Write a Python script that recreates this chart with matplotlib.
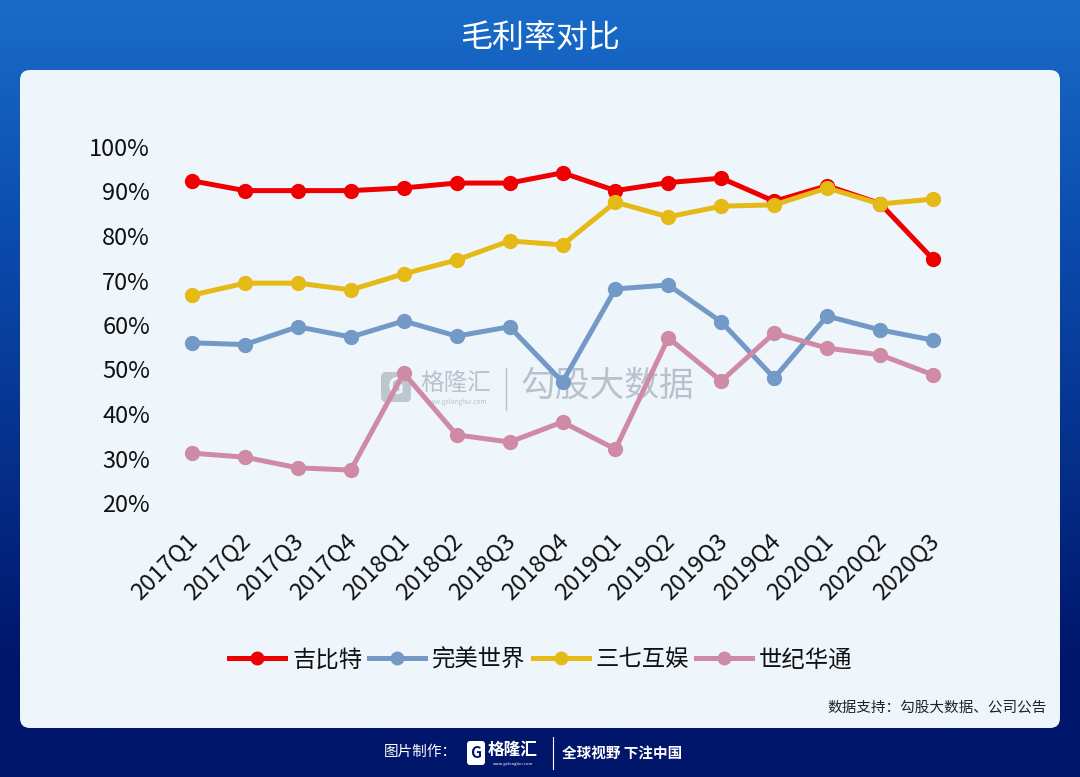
import matplotlib
matplotlib.use("Agg")
import matplotlib.pyplot as plt
import matplotlib.transforms as mtransforms
import numpy as np
from matplotlib.patches import FancyBboxPatch
from matplotlib.lines import Line2D

plt.rcParams['font.family'] = ['Noto Sans CJK SC', 'DejaVu Sans']

quarters = ["2017Q1", "2017Q2", "2017Q3", "2017Q4", "2018Q1", "2018Q2", "2018Q3",
            "2018Q4", "2019Q1", "2019Q2", "2019Q3", "2019Q4", "2020Q1", "2020Q2", "2020Q3"]

jibite = [92.4, 90.2, 90.2, 90.2, 90.8, 91.9, 91.9, 94.2, 90.2, 92.0, 93.0, 87.8, 91.3, 87.3, 74.8]
wanmei = [56.0, 55.6, 59.6, 57.3, 60.9, 57.5, 59.6, 47.2, 68.1, 69.0, 60.7, 48.1, 62.0, 58.9, 56.6]
sanqi = [66.7, 69.4, 69.4, 67.9, 71.5, 74.6, 78.9, 78.0, 87.6, 84.3, 86.7, 87.0, 90.8, 87.2, 88.3]
shiji = [31.2, 30.3, 27.9, 27.4, 49.2, 35.3, 33.7, 38.2, 32.1, 57.1, 47.4, 58.2, 54.8, 53.3, 48.8]

series_names = ["吉比特", "完美世界", "三七互娱", "世纪华通"]
series_colors = ["#ee0000", "#7399c6", "#e5b916", "#cf8aa5"]
yticks = [20, 30, 40, 50, 60, 70, 80, 90, 100]

W, H = 1080, 777
fig = plt.figure(figsize=(W / 100, H / 100), dpi=100)

# background
bg = fig.add_axes([0, 0, 1, 1])
bg.set_xlim(0, W)
bg.set_ylim(H, 0)
bg.axis('off')
top = np.array([0x1a, 0x6c, 0xc9]) / 255
mid = np.array([0x0b, 0x4c, 0xae]) / 255
bot = np.array([0x00, 0x16, 0x6b]) / 255
t = np.linspace(0, 1, 400)[:, None]
grad = np.where(t < 0.3, top + (mid - top) * (t / 0.3),
                mid + (bot - mid) * np.clip((t - 0.3) / 0.55, 0, 1))
img = np.repeat(grad[:, None, :], 2, axis=1)
bg.imshow(img, extent=[0, W, H, 0], aspect='auto', zorder=0)

panel = FancyBboxPatch((20, 70), 1040, 658, boxstyle="round,pad=0,rounding_size=10",
                       facecolor="#eef6fc", edgecolor="none", zorder=1)
bg.add_patch(panel)

bg.text(540, 38, "毛利率对比", color="white", fontsize=23, ha="center", va="center", zorder=2)
bg.text(1047, 708, "数据支持：勾股大数据、公司公告", color="#222222", fontsize=10.5,
        ha="right", va="center", zorder=2)

# watermark
wm = "#b9c1cc"
bg.add_patch(FancyBboxPatch((381, 372), 30, 30, boxstyle="round,pad=0,rounding_size=5",
                            facecolor=wm, edgecolor="none", zorder=2, alpha=0.9))
bg.text(396, 387, "G", color="#eef6fc", fontsize=16, fontweight="bold", ha="center", va="center", zorder=3)
bg.text(456, 383, "格隆汇", color=wm, fontsize=17, ha="center", va="center", zorder=2)
bg.text(456, 402, "www.gelonghui.com", color=wm, fontsize=4.5, ha="center", va="center", zorder=2)
bg.plot([506, 506], [368, 410], color=wm, lw=1, zorder=2)
bg.text(607, 386, "勾股大数据", color=wm, fontsize=25, ha="center", va="center", zorder=2)

# footer
bg.text(457, 752, "图片制作：", color="white", fontsize=10.5, ha="right", va="center", zorder=2)
bg.add_patch(FancyBboxPatch((467, 741), 18, 24, boxstyle="round,pad=0,rounding_size=3",
                            facecolor="white", edgecolor="none", zorder=2))
bg.text(476, 753, "G", color="#00176c", fontsize=11, fontweight="bold", ha="center", va="center", zorder=3)
bg.text(513, 750, "格隆汇", color="white", fontsize=12, fontweight="bold", ha="center", va="center", zorder=2)
bg.text(513, 764, "www.gelonghui.com", color="white", fontsize=3, ha="center", va="center", zorder=2)
bg.plot([553, 553], [737, 769], color="white", lw=0.8, zorder=2)
bg.text(562, 753, "全球视野 下注中国", color="white", fontsize=10.5, fontweight="bold",
        ha="left", va="center", zorder=2)

# chart axes
n = len(quarters)
x = np.arange(n)
px_per = (933 - 192) / (n - 1)
x0, x1 = -0.4, n - 1 + 0.4
left_px = 192 + x0 * px_per
right_px = 192 + x1 * px_per
ax = fig.add_axes([left_px / W, 1 - 503 / H, (right_px - left_px) / W, (503 - 147) / H])
ax.set_facecolor("none")
ax.set_xlim(x0, x1)
ax.set_ylim(20, 100)
for s in ax.spines.values():
    s.set_visible(False)

handles = []
for name, vals, col in zip(series_names, [jibite, wanmei, sanqi, shiji], series_colors):
    ax.plot(x, vals, color=col, lw=3.6, marker='o', markersize=10,
            solid_joinstyle='round', clip_on=False)
    handles.append(Line2D([], [], color=col, lw=3.6, marker='o', markersize=9, label=name))

ax.set_yticks(yticks)
ax.set_yticklabels([f"{v}%" for v in yticks], fontsize=17, color="#111111")
ax.set_xticks(x)
ax.set_xticklabels(quarters, rotation=45, ha="right", rotation_mode="anchor",
                   fontsize=17, color="#111111")
ax.tick_params(axis='y', length=0, pad=15)
ax.tick_params(axis='x', length=0, pad=19)
offset = mtransforms.ScaledTranslation(-6 / 100, 0, fig.dpi_scale_trans)
for lab in ax.get_xticklabels():
    lab.set_transform(lab.get_transform() + offset)

leg = fig.legend(handles=handles, loc="center", bbox_to_anchor=(541 / W, 1 - 660 / H),
                 ncol=4, frameon=False, fontsize=16.8, handlelength=2.4, handletextpad=0.3,
                 columnspacing=0.3)
for t_ in leg.get_texts():
    t_.set_color("#111111")

fig.savefig("out.png", dpi=100)
